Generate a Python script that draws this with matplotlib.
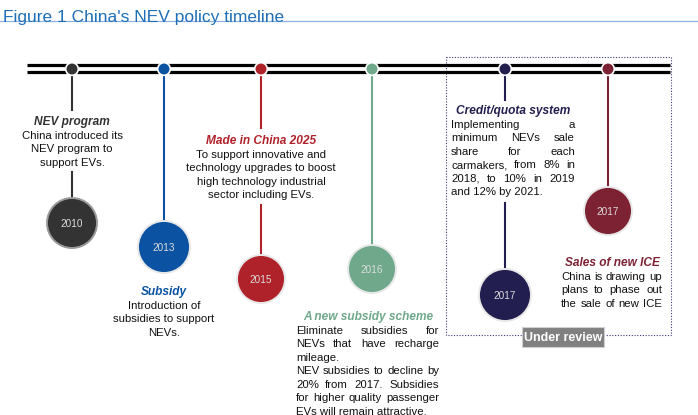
import matplotlib
matplotlib.use("Agg")
import matplotlib.pyplot as plt
from matplotlib.patches import Circle, Rectangle

plt.rcParams["font.family"] = ["Liberation Sans", "DejaVu Sans"]

# --- data ---
years = ["2010", "2013", "2015", "2016", "2017", "2017"]
titles = ["NEV program", "Subsidy", "Made in China 2025", "A new subsidy scheme",
          "Credit/quota system", "Sales of new ICE"]
bodies = [
    [["China introduced its", "NEV program to", "support EVs."]],
    [["Introduction of", "subsidies to support", "NEVs."]],
    [["To support innovative and", "technology upgrades to boost",
      "high technology industrial", "sector including EVs."]],
    [["Eliminate subsidies for", "NEVs that have recharge", "mileage."],
     ["NEV subsidies to decline by", "20% from 2017. Subsidies",
      "for higher quality passenger", "EVs will remain attractive."]],
    [["Implementing a", "minimum NEVs sale", "share for each",
      "carmakers, from 8% in", "2018, to 10% in 2019", "and 12% by 2021."]],
    [["China is drawing up", "plans to phase out", "the sale of new ICE"]],
]
colors = ["#333333", "#0B52A3", "#B0222A", "#6FA88A", "#221E4F", "#7C2233"]
review_label = "Under review"

# --- layout (pixels) ---
xs = [72, 164, 261, 372, 505, 608]
circle_y = [223, 247, 279, 269, 295, 211]
circle_r = [25, 26, 24, 24, 26, 24]
title_y = [122, 292, 141, 317, 111, 263]
title_x = [72, 164, 261, 368, 513, 612]
# body: (mode, x0, x1)  mode 'c' centered, 'j' justified
body_box = [("c", 72, 72), ("c", 164, 164), ("c", 261, 261), ("j", 296, 439),
            ("j", 451, 575), ("j", 561, 662)]
# stem gaps (text zones) per event, y ranges where stem is hidden
stem_gap = [(110, 172), None, (128, 205), None, (100, 203), None]
LH = 13.5
line_y = 69

fig = plt.figure(figsize=(6.98, 4.15), dpi=100)
ax = fig.add_axes([0, 0, 1, 1])
ax.set_xlim(0, 698)
ax.set_ylim(415, 0)
ax.axis("off")
renderer = fig.canvas.get_renderer()

fs_body = 8.2


def text_w(s):
    t = ax.text(0, 0, s, fontsize=fs_body)
    w = t.get_window_extent(renderer).width
    t.remove()
    return w


# title
fig.text(0.004, 0.975, "Figure 1 China's NEV policy timeline", fontsize=12.5,
         color="#1F6FB8", va="top", ha="left")
ax.plot([0, 698], [21.5, 21.5], color="#8DB3DE", lw=0.9)

# timeline double line
ax.plot([27, 670], [65.5, 65.5], color="black", lw=2.3, solid_capstyle="butt", zorder=2)
ax.plot([27, 670], [72.5, 72.5], color="black", lw=2.3, solid_capstyle="butt", zorder=2)

# dashed review box
ax.add_patch(Rectangle((446, 57), 225, 278, fill=False, ec="#3A3A78", lw=0.8,
                       ls=(0, (1, 1.5)), zorder=1))
ax.add_patch(Rectangle((522, 327), 82, 20, fc="#808080", ec="#d0d0d0", lw=0.8, zorder=3))
ax.text(563, 337.5, review_label, color="white", fontsize=9, fontweight="bold",
        ha="center", va="center", zorder=4)

for i in range(len(years)):
    x, c = xs[i], colors[i]
    cy, r = circle_y[i], circle_r[i]
    # stem
    if stem_gap[i] is None:
        ax.plot([x, x], [line_y, cy - r], color=c, lw=1.5, zorder=2)
    else:
        g0, g1 = stem_gap[i]
        ax.plot([x, x], [line_y, g0], color=c, lw=1.5, zorder=2)
        ax.plot([x, x], [g1, cy - r], color=c, lw=1.5, zorder=2)
    # top dot
    ax.add_patch(Circle((x, line_y), 6.3, fc=c, ec="white", lw=1.2, zorder=5))
    # year circle
    ec = "#9a9a9a" if i == 0 else "#e8e8e8"
    ax.add_patch(Circle((x, cy), r, fc=c, ec=ec, lw=1.4, zorder=3))
    ax.text(x, cy + 0.5, years[i], color="#dddddd", fontsize=7.2, ha="center",
            va="center", zorder=4)
    # title
    ax.text(title_x[i], title_y[i], titles[i], color=c, fontsize=8.6,
            fontweight="bold", fontstyle="italic", ha="center", va="center")
    # body
    mode, x0, x1 = body_box[i]
    y = title_y[i] + LH
    for para in bodies[i]:
        for k, line in enumerate(para):
            last = k == len(para) - 1 and i != 5
            if mode == "c":
                ax.text(x0, y, line, fontsize=fs_body, color="#111111",
                        ha="center", va="center")
            elif last:
                ax.text(x0, y, line, fontsize=fs_body, color="#111111",
                        ha="left", va="center")
            else:
                words = line.split()
                widths = [text_w(w) for w in words]
                gap = (x1 - x0 - sum(widths)) / (len(words) - 1)
                xx = x0
                for w, wd in zip(words, widths):
                    ax.text(xx, y, w, fontsize=fs_body, color="#111111",
                            ha="left", va="center")
                    xx += wd + gap
            y += LH

fig.savefig("out.png", dpi=100)
